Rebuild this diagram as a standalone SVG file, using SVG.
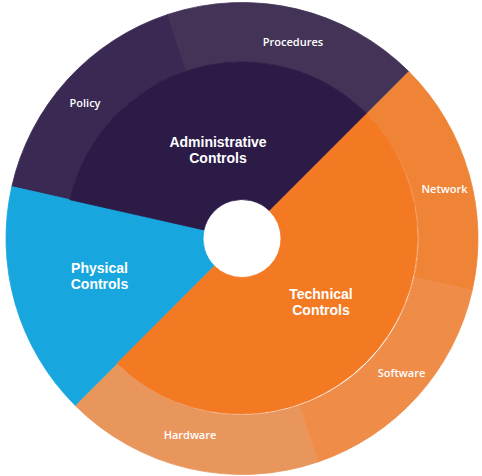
<svg xmlns="http://www.w3.org/2000/svg" width="482" height="476" viewBox="0 0 482 476">
<style>
.lbl{font-family:"Open Sans","Liberation Sans",sans-serif;font-weight:600;fill:#ffffff;text-anchor:middle}
.sm{font-size:11px}
.lg{font-family:"Liberation Sans",Arial,sans-serif;font-weight:bold;font-size:14px}
path{stroke-width:0.8;stroke-linejoin:round}
</style>
<rect width="482" height="476" fill="#ffffff"/>
<g id="policy">
<path d="M11.77,186.62 A236,236 0 0 1 167.90,14.43 L186.58,70.93 A176.5,176.5 0 0 0 69.82,199.70 Z" fill="#3a2953" stroke="#3a2953"/>
<text class="lbl sm" x="85" y="107">Policy</text>
</g>
<g id="procedures">
<path d="M167.90,14.43 A236,236 0 0 1 408.88,71.62 L366.80,113.70 A176.5,176.5 0 0 0 186.58,70.93 Z" fill="#433457" stroke="#433457"/>
<text class="lbl sm" x="293" y="46">Procedures</text>
</g>
<g id="network">
<path d="M408.88,71.62 A236,236 0 0 1 472.23,290.38 L414.18,277.30 A176.5,176.5 0 0 0 366.80,113.70 Z" fill="#f08436" stroke="#f08436"/>
<text class="lbl sm" x="444.5" y="193">Network</text>
</g>
<g id="software">
<path d="M472.23,290.38 A236,236 0 0 1 318.06,461.91 L298.88,405.58 A176.5,176.5 0 0 0 414.18,277.30 Z" fill="#ee8c48" stroke="#ee8c48"/>
<text class="lbl sm" x="401.5" y="377">Software</text>
</g>
<g id="hardware">
<path d="M318.06,461.91 A236,236 0 0 1 75.12,405.38 L117.20,363.30 A176.5,176.5 0 0 0 298.88,405.58 Z" fill="#e9965d" stroke="#e9965d"/>
<text class="lbl sm" x="190" y="439">Hardware</text>
</g>
<g id="physical-controls">
<path d="M75.12,405.38 A236,236 0 0 1 11.77,186.62 L203.95,229.93 A39,39 0 0 0 214.42,266.08 Z" fill="#17a6de" stroke="#17a6de"/>
<text class="lbl lg" x="99.5" y="273">Physical<tspan x="99.5" dy="16">Controls</tspan></text>
</g>
<g id="administrative-controls">
<path d="M69.82,199.70 A176.5,176.5 0 0 1 366.80,113.70 L269.58,210.92 A39,39 0 0 0 203.95,229.93 Z" fill="#2c1a47" stroke="#2c1a47"/>
<text class="lbl lg" x="218" y="147">Administrative<tspan x="218" dy="16">Controls</tspan></text>
</g>
<g id="technical-controls">
<path d="M366.80,113.70 A176.5,176.5 0 0 1 117.20,363.30 L214.42,266.08 A39,39 0 0 0 269.58,210.92 Z" fill="#f37923" stroke="#f37923"/>
<text class="lbl lg" x="321" y="299">Technical<tspan x="321" dy="16">Controls</tspan></text>
</g>
<g id="connectors"></g>
</svg>
